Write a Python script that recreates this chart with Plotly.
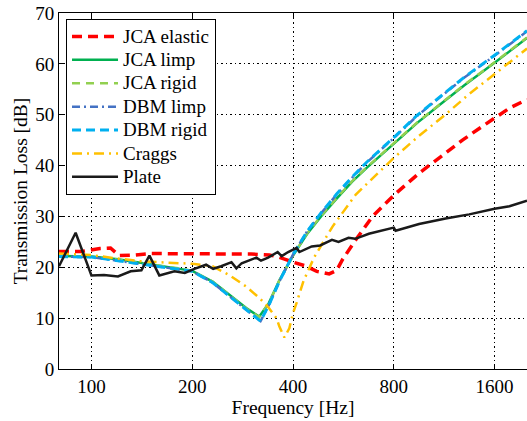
import plotly.graph_objects as go

# ---- data ----
jca_el_f = [80, 93, 106, 114, 121, 134, 150, 200, 250, 300, 340, 360, 396, 435, 471, 513, 540, 562, 616, 691, 757, 811, 952, 1143, 1283, 1440, 1600, 1773, 2000]
jca_el_db = [23.1, 23.1, 23.7, 23.8, 22.3, 22.4, 22.7, 22.7, 22.7, 22.6, 22.4, 22.1, 21.1, 20.3, 19.2, 18.7, 19.4, 21.5, 25.4, 30.0, 32.6, 34.5, 38.5, 42.5, 45.0, 47.3, 49.4, 51.3, 53.0]

jca_limp_f = [80, 100, 120, 140, 160, 183, 200, 230, 259, 290, 317, 339, 364, 400, 440, 485, 540, 600, 665, 740, 800, 940, 1100, 1300, 1600, 2000]
jca_limp_db = [22.2, 22.1, 21.6, 20.9, 20.4, 19.8, 19.3, 17.2, 14.6, 12.0, 10.3, 13.0, 17.4, 22.3, 26.5, 30.0, 33.5, 36.8, 39.6, 42.3, 44.3, 48.4, 52.0, 55.8, 60.2, 65.1]

jca_rigid_f = [80, 100, 120, 140, 160, 183, 200, 230, 259, 290, 317, 339, 364, 400, 440, 485, 540, 600, 665, 740, 800, 940, 1100, 1300, 1600, 2000]
jca_rigid_db = [22.2, 22.1, 21.5, 20.8, 20.3, 19.8, 19.3, 17.2, 14.5, 11.9, 10.2, 13.0, 17.4, 22.3, 26.6, 30.1, 33.6, 36.9, 39.7, 42.4, 44.4, 48.5, 52.1, 55.9, 60.3, 65.2]

dbm_limp_f = [80, 100, 120, 140, 160, 183, 200, 230, 259, 290, 320, 339, 364, 400, 440, 485, 540, 600, 665, 740, 800, 940, 1100, 1300, 1600, 2000]
dbm_limp_db = [22.1, 22.0, 21.3, 20.6, 20.1, 19.6, 19.2, 17.0, 14.3, 11.6, 9.4, 12.6, 17.2, 22.5, 27.0, 30.6, 34.3, 37.6, 40.6, 43.4, 45.4, 49.8, 53.5, 57.3, 61.6, 66.4]

dbm_rigid_f = [80, 100, 120, 140, 160, 183, 200, 230, 259, 290, 320, 339, 364, 400, 440, 485, 540, 600, 665, 740, 800, 940, 1100, 1300, 1600, 2000]
dbm_rigid_db = [22.1, 22.0, 21.3, 20.6, 20.1, 19.6, 19.2, 17.0, 14.3, 11.6, 9.4, 12.6, 17.2, 22.5, 27.0, 30.7, 34.4, 37.7, 40.7, 43.5, 45.5, 49.9, 53.6, 57.4, 61.7, 66.5]

craggs_f = [80, 100, 117, 140, 169, 200, 230, 259, 290, 317, 339, 357, 364, 377, 390, 400, 410, 430, 463, 525, 616, 715, 800, 950, 1140, 1340, 1600, 2000]
craggs_db = [22.7, 22.4, 21.8, 21.2, 20.9, 20.7, 20.2, 18.4, 16.2, 14.0, 12.0, 10.0, 8.4, 6.2, 8.0, 11.0, 13.0, 17.3, 22.0, 28.0, 34.3, 38.5, 41.5, 45.8, 50.0, 54.0, 58.0, 63.0]

plate_f = [80, 89.7, 100, 109, 120, 131, 141, 149, 159.5, 177, 190, 203, 220, 231, 244, 262, 271, 281, 311, 321, 337, 360, 370, 387, 410, 418, 455, 482, 523, 547, 586, 614, 674, 738, 800, 810, 952, 1143, 1344, 1600, 1773, 2000]
plate_db = [20.2, 26.8, 18.4, 18.5, 18.2, 19.2, 19.4, 22.3, 18.4, 19.2, 18.9, 19.7, 20.5, 19.7, 20.2, 21.0, 19.8, 20.8, 21.9, 21.3, 21.9, 23.0, 22.2, 23.0, 23.8, 23.0, 24.1, 24.3, 25.4, 25.0, 25.8, 25.6, 26.6, 27.2, 27.8, 27.2, 28.5, 29.6, 30.4, 31.5, 32.0, 33.1]

x_ticks = [100, 200, 400, 800, 1600]
y_ticks = [0, 10, 20, 30, 40, 50, 60, 70]

series = [
    ("JCA elastic", jca_el_f, jca_el_db, "#ff0000", 3.5, "10px,6px"),
    ("JCA limp", jca_limp_f, jca_limp_db, "#00b050", 2.5, "solid"),
    ("JCA rigid", jca_rigid_f, jca_rigid_db, "#92d050", 2.5, "8px,6px"),
    ("DBM limp", dbm_limp_f, dbm_limp_db, "#4472c4", 2.5, "8px,4px,2px,4px"),
    ("DBM rigid", dbm_rigid_f, dbm_rigid_db, "#00b0f0", 3, "9px,5px"),
    ("Craggs", craggs_f, craggs_db, "#ffc000", 2.5, "10px,5px,2px,5px"),
    ("Plate", plate_f, plate_db, "#1a1a1a", 2.5, "solid"),
]

FONT = "Liberation Serif"
LEG_TEXT = 19

fig = go.Figure()
for name, f, db, col, w, dash in series:
    fig.add_trace(go.Scatter(
        x=f, y=db, mode="lines",
        name=f'<span style="font-size:{LEG_TEXT}px">{name}</span>',
        line=dict(color=col, width=w, dash=dash)))

fig.update_layout(
    width=527, height=421,
    margin=dict(l=59, r=0, t=13, b=52),
    paper_bgcolor="white", plot_bgcolor="white",
    font=dict(family=FONT, size=19, color="black"),
    showlegend=True,
    legend=dict(x=0.015, y=0.984, xanchor="left", yanchor="top",
                bgcolor="white", bordercolor="black", borderwidth=1,
                font=dict(family=FONT, size=15.7),
                itemwidth=46, tracegroupgap=0),
)
fig.update_xaxes(
    type="log", range=[1.90309, 3.30103], automargin=False,
    tickvals=x_ticks, ticktext=[str(v) for v in x_ticks],
    ticks="inside", ticklen=5, tickcolor="black",
    showline=True, linecolor="black", linewidth=1, mirror="ticks",
    showgrid=True, gridcolor="black", gridwidth=1, griddash="1.5px,3px",
    zeroline=False,
    tickfont=dict(family=FONT, size=19),
    title=dict(text="Frequency [Hz]", font=dict(family=FONT, size=19.5), standoff=0),
)
fig.update_yaxes(
    range=[0, 70], tickvals=y_ticks, automargin=False,
    ticks="inside", ticklen=5, tickcolor="black",
    showline=True, linecolor="black", linewidth=1,
    showgrid=True, gridcolor="black", gridwidth=1, griddash="1.5px,3px",
    zeroline=False,
    tickfont=dict(family=FONT, size=19),
    title=dict(text="Transmission Loss [dB]", font=dict(family=FONT, size=19.5), standoff=2),
)

fig.write_html("out.html", config={"displayModeBar": False},
               post_script="document.body.style.margin='0';document.body.style.overflow='hidden';")
